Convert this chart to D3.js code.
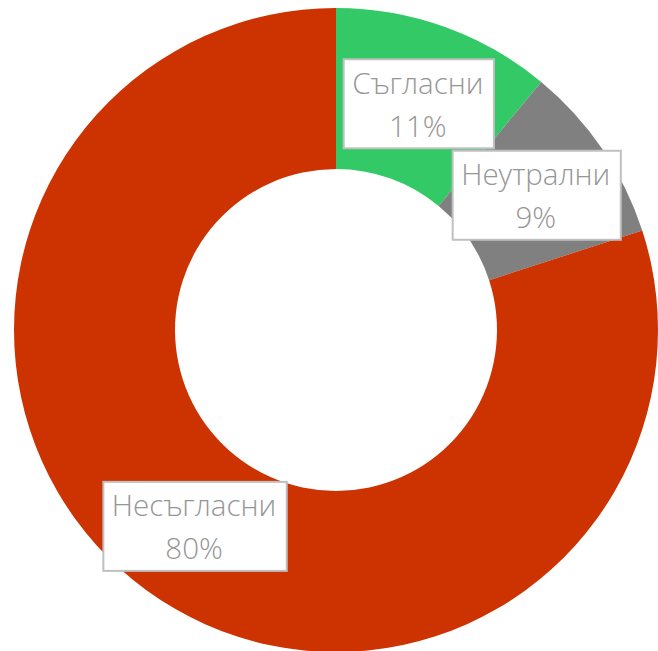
<!DOCTYPE html>
<html><head><meta charset="utf-8">
<script src="https://cdn.jsdelivr.net/npm/d3@7"></script>
<style>html,body{margin:0;padding:0;background:#fff;overflow:hidden}</style>
</head><body>
<svg id="chart" width="658" height="651"></svg>
<script>
const categories = ["Съгласни", "Неутрални", "Несъгласни"];
const values = [11, 9, 80];
const colors = ["#33c966", "#808080", "#cc3300"];

const svg = d3.select("#chart");
const cx = 336, cy = 330, outerR = 322, innerR = 161;
const g = svg.append("g").attr("transform", `translate(${cx},${cy})`);
const pie = d3.pie().sort(null).value(d => d.v);
const data = pie(categories.map((c, i) => ({c, v: values[i], col: colors[i]})));
const arc = d3.arc().innerRadius(innerR).outerRadius(outerR);
g.selectAll("path.slice").data(data).join("path")
  .attr("class", "slice").attr("d", arc).attr("fill", d => d.data.col);

const total = d3.sum(values);
const labArc = d3.arc().innerRadius((innerR + outerR) / 2).outerRadius((innerR + outerR) / 2);
const lab = g.selectAll("g.lab").data(data).join("g").attr("class", "lab")
  .attr("transform", d => `translate(${labArc.centroid(d)})`);
lab.each(function(d) {
  const el = d3.select(this);
  const rect = el.append("rect").attr("fill", "#fff").attr("stroke", "#c0c0c0").attr("stroke-width", 2);
  const t = el.append("text").attr("text-anchor", "middle")
    .attr("font-family", "'Open Sans', sans-serif").attr("font-weight", 300)
    .attr("font-size", 29.5).attr("fill", "#969696");
  t.append("tspan").attr("x", 0).attr("y", -9).text(d.data.c);
  t.append("tspan").attr("x", 0).attr("y", 34).text(Math.round(d.data.v / total * 100) + "%");
  const bb = t.node().getBBox();
  const w = bb.width + 19, h = 89;
  rect.attr("x", -w / 2 + 1).attr("y", -h / 2 + 1).attr("width", w).attr("height", h);
});
</script>
</body></html>
